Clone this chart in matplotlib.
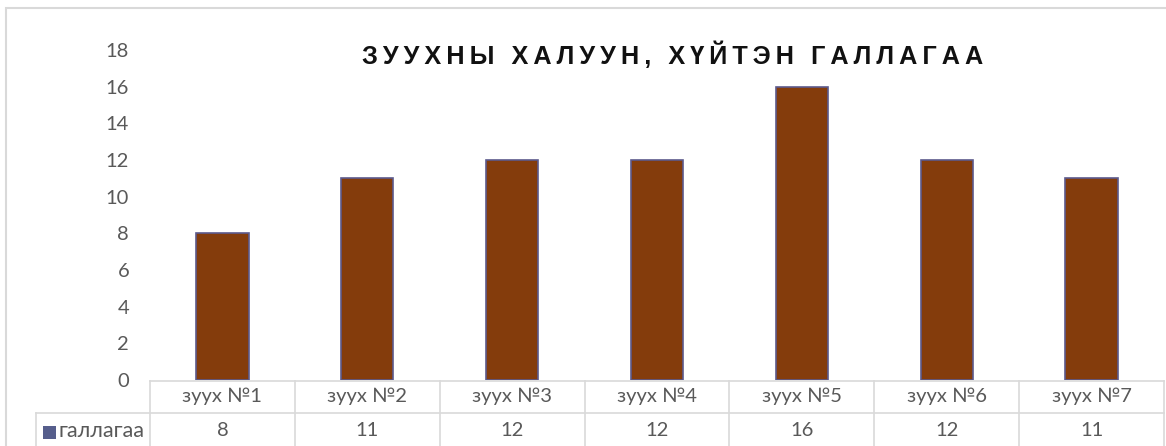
import numpy as np
import matplotlib.pyplot as plt
from matplotlib.lines import Line2D
from matplotlib.patches import Rectangle

# Data
furnaces = ['зуух №1', 'зуух №2', 'зуух №3', 'зуух №4', 'зуух №5', 'зуух №6', 'зуух №7']
firings = [8, 11, 12, 12, 16, 12, 11]
series_name = 'галлагаа'
title = 'ЗУУХНЫ ХАЛУУН, ХҮЙТЭН ГАЛЛАГАА'

W, H = 1166, 446
fig = plt.figure(figsize=(W / 100, H / 100), dpi=100)

# pixel -> figure fraction helpers
fx = lambda x: x / W
fy = lambda y: 1 - y / H

x0, x1, y_top, y_zero = 150, 1164, 50, 380
ax = fig.add_axes([fx(x0), fy(y_zero), fx(x1 - x0), fy(y_top) - fy(y_zero)])

pos = np.arange(len(furnaces))
ax.bar(pos, firings, width=0.36, color='#843C0C', edgecolor='#5C5A8C', linewidth=1.2)
ax.set_xlim(-0.5, len(furnaces) - 0.5)
ax.set_ylim(0, 18)
ax.set_yticks(np.arange(0, 19, 2))
ax.set_xticks([])
ax.tick_params(axis='y', length=0, pad=15, labelsize=14.5, labelcolor='#595959')
for lab in ax.get_yticklabels():
    lab.set_family(['Lato', 'DejaVu Sans'])
for s in ax.spines.values():
    s.set_visible(False)

# outer chart border
fig.add_artist(Rectangle((fx(6), fy(H + 5)), fx(W - 6 + 5), fy(8) - fy(H + 5),
                         fill=False, edgecolor='#D9D9D9', linewidth=1.5,
                         transform=fig.transFigure))

# title with widened letter spacing
spaced = '\u2009'.join(title)
fig.text(fx(673), fy(55), spaced, ha='center', va='center', fontsize=18.2,
         fontweight='bold', color='#111111', family=['Liberation Sans', 'DejaVu Sans'])

# data table under the axis
grid = dict(color='#D9D9D9', linewidth=1.2, transform=fig.transFigure)
row1, row2 = 381, 413
col_w = (x1 - x0) / len(furnaces)
fig.add_artist(Line2D([fx(x0), fx(x1)], [fy(row1), fy(row1)], **grid))
fig.add_artist(Line2D([fx(36), fx(x1)], [fy(row2), fy(row2)], **grid))
fig.add_artist(Line2D([fx(36), fx(36)], [fy(row2), fy(H + 5)], **grid))
for i in range(len(furnaces) + 1):
    xc = x0 + i * col_w
    fig.add_artist(Line2D([fx(xc), fx(xc)], [fy(row1), fy(H + 5)], **grid))

cell = dict(ha='center', va='center', fontsize=14.5, color='#595959',
            family=['Lato', 'DejaVu Sans'])
for i, (name, v) in enumerate(zip(furnaces, firings)):
    xc = x0 + (i + 0.5) * col_w
    fig.text(fx(xc), fy(396), name, **cell)
    fig.text(fx(xc), fy(431), str(v), **cell)

# legend key + series name
fig.add_artist(Rectangle((fx(43), fy(439)), fx(13), fy(426) - fy(439),
                         facecolor='#565E8C', edgecolor='none', transform=fig.transFigure))
fig.text(fx(59), fy(431), series_name, ha='left', va='center', fontsize=15.5,
         color='#595959', family=['Lato', 'DejaVu Sans'])

plt.savefig('out.png', dpi=100)
